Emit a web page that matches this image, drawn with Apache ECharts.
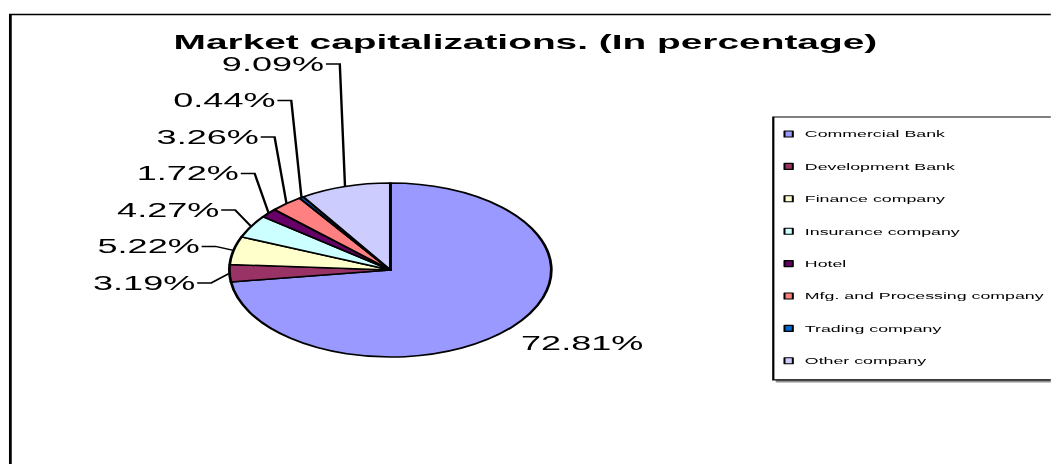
<!DOCTYPE html>
<html>
<head>
<meta charset="utf-8">
<title>Market capitalizations</title>
<script src="https://cdn.jsdelivr.net/npm/echarts@6/dist/echarts.min.js"></script>
<style>
  html, body { margin: 0; padding: 0; background: #fff; overflow: hidden; }
  /* The chart is laid out on a narrow canvas and widened horizontally,
     which gives the flattened pie and the wide lettering. */
  #chart { width: 568px; height: 464px; transform: scaleX(1.85); transform-origin: 0 0; }
</style>
</head>
<body>
<div id="chart"></div>
<script>
// ---- data ----
const chartTitle = 'Market capitalizations. (In percentage)';
const categories = [
  'Commercial Bank',
  'Development Bank',
  'Finance company',
  'Insurance company',
  'Hotel',
  'Mfg. and Processing company',
  'Trading company',
  'Other company'
];
const shares = [72.81, 3.19, 5.22, 4.27, 1.72, 3.26, 0.44, 9.09];
const sliceColors = ['#9999FF', '#993366', '#FFFFCC', '#CCFFFF', '#660066', '#FF8080', '#0066CC', '#CCCCFF'];

// ---- layout (narrow canvas pixels) ----
const FONT = '"Liberation Sans", Arial, Helvetica, sans-serif';
const PIE_CX = 211, PIE_CY = 270, PIE_R = 87;
const LINE_LEN = 10;      // radial part of a leader line
const LINE_LEN2 = 7.5;    // horizontal part of a leader line
const LABEL_H = 20;       // label text height
const LABEL_SLOT = 36.5;  // vertical room taken by one stacked label
const LABEL_TOP = 64;     // highest label centre allowed (below the title)

// Place each value label: start next to the rim at the slice's mid angle,
// then stack the labels of each side so they do not collide.
function layoutLabels() {
  const total = shares.reduce((a, b) => a + b, 0);
  let acc = 0;
  const items = shares.map((v, i) => {
    const a0 = acc / total * 2 * Math.PI;
    acc += v;
    const a1 = acc / total * 2 * Math.PI;
    const mid = (a0 + a1) / 2;                 // clockwise from 12 o'clock
    const nx = Math.sin(mid), ny = -Math.cos(mid);
    const edge = [PIE_CX + PIE_R * nx, PIE_CY + PIE_R * ny];
    const knee = [PIE_CX + (PIE_R + LINE_LEN) * nx, PIE_CY + (PIE_R + LINE_LEN) * ny];
    const natY = knee[1] + LABEL_H / 2 * Math.max(-1, Math.min(1, 2 * ny));
    return { i, nx, ny, edge, knee, natY, y: natY, left: nx < 0 };
  });
  [true, false].forEach(side => {
    const list = items.filter(d => d.left === side).sort((a, b) => b.natY - a.natY);
    for (let k = 1; k < list.length; k++) {
      list[k].y = Math.min(list[k].natY, list[k - 1].y - LABEL_SLOT);
    }
    const top = list[list.length - 1];
    if (top && top.y < LABEL_TOP) {
      top.y = LABEL_TOP;
      for (let k = list.length - 2; k >= 0; k--) {
        list[k].y = Math.max(list[k].y, list[k + 1].y + LABEL_SLOT);
      }
    }
  });
  items.forEach(d => {
    d.moved = Math.abs(d.y - d.natY) > 1;
    const dir = d.left ? -1 : 1;
    const kx = d.knee[0];
    d.linePoints = [d.edge, [kx, d.y], [kx + dir * LINE_LEN2, d.y]];
    d.labelX = d.moved ? kx + dir * (LINE_LEN2 + 1) : kx - 2.5;
    d.align = d.left ? 'right' : 'left';
  });
  return items;
}
const labelPlan = layoutLabels();

const chart = echarts.init(document.getElementById('chart'), null, { renderer: 'svg' });

chart.setOption({
  animation: false,
  backgroundColor: '#fff',
  title: {
    text: chartTitle,
    left: 'center',
    top: 31,
    padding: 0,
    textStyle: { fontFamily: FONT, fontSize: 21, fontWeight: 'bold', color: '#000' }
  },
  graphic: [{
    type: 'rect',
    silent: true,
    z: -10,
    shape: { x: 5.6, y: 14.5, width: 1000, height: 1000 },
    style: { fill: 'none', stroke: '#000', lineWidth: 1.5 }
  }],
  legend: {
    orient: 'vertical',
    left: 418,
    top: 117,
    data: categories,
    selectedMode: false,
    icon: 'rect',
    itemWidth: 4.5,
    itemHeight: 6,
    itemGap: 22.4,
    padding: [12, 12, 14, 5.5],
    backgroundColor: '#fff',
    borderColor: '#000',
    borderWidth: 1.2,
    shadowColor: 'rgba(0,0,0,0.45)',
    shadowBlur: 0.5,
    shadowOffsetX: 2,
    shadowOffsetY: 2,
    itemStyle: { borderColor: '#000', borderWidth: 1.1 },
    textStyle: { fontFamily: FONT, fontSize: 9.6, lineHeight: 10, color: '#000', padding: [0, 0, 0, 1.5] }
  },
  series: [{
    type: 'pie',
    center: [PIE_CX, PIE_CY],
    radius: PIE_R,
    startAngle: 90,
    clockwise: true,
    avoidLabelOverlap: false,
    silent: true,
    itemStyle: { borderColor: '#000', borderWidth: 1.5 },
    label: {
      show: true,
      position: 'outside',
      formatter: p => p.value.toFixed(2) + '%',
      fontFamily: FONT,
      fontSize: 19.5,
      color: '#000'
    },
    labelLine: {
      show: true,
      length: LINE_LEN,
      length2: LINE_LEN2,
      lineStyle: { color: '#000', width: 1.3 }
    },
    labelLayout: p => {
      const d = labelPlan[p.dataIndex];
      return {
        x: d.labelX,
        y: d.y,
        align: d.align,
        verticalAlign: 'middle',
        labelLinePoints: d.linePoints
      };
    },
    data: categories.map((name, i) => ({
      name,
      value: shares[i],
      itemStyle: { color: sliceColors[i] },
      labelLine: { show: labelPlan[i].moved }
    }))
  }]
});
</script>
</body>
</html>
